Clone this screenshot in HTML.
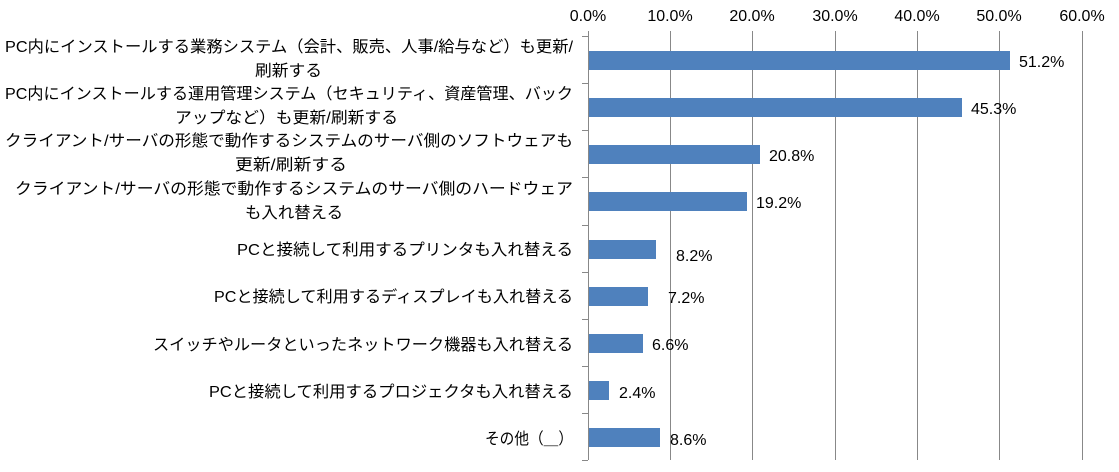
<!DOCTYPE html>
<html><head><meta charset="utf-8"><style>
body{margin:0;background:#fff;width:1119px;height:467px;overflow:hidden;font-family:"Liberation Sans","Noto Sans CJK JP",sans-serif;}
</style></head><body>
<svg width="1119" height="467" xmlns="http://www.w3.org/2000/svg" font-family="'Liberation Sans','Noto Sans CJK JP',sans-serif" font-size="16" fill="#000">
<g stroke="#888" stroke-width="1">
<line x1="670.5" y1="31" x2="670.5" y2="460"/><line x1="752.5" y1="31" x2="752.5" y2="460"/>
<line x1="835.5" y1="31" x2="835.5" y2="460"/><line x1="917.5" y1="31" x2="917.5" y2="460"/>
<line x1="999.5" y1="31" x2="999.5" y2="460"/><line x1="1082.5" y1="31" x2="1082.5" y2="460"/>
<line x1="588.5" y1="31" x2="588.5" y2="460"/>
<line x1="582" y1="36.5" x2="588" y2="36.5"/><line x1="582" y1="83.5" x2="588" y2="83.5"/>
<line x1="582" y1="130.5" x2="588" y2="130.5"/><line x1="582" y1="177.5" x2="588" y2="177.5"/>
<line x1="582" y1="225.5" x2="588" y2="225.5"/><line x1="582" y1="272.5" x2="588" y2="272.5"/>
<line x1="582" y1="319.5" x2="588" y2="319.5"/><line x1="582" y1="366.5" x2="588" y2="366.5"/>
<line x1="582" y1="413.5" x2="588" y2="413.5"/><line x1="582" y1="460.5" x2="588" y2="460.5"/>
</g>
<g text-anchor="middle" font-size="16">
<text x="588" y="21">0.0%</text><text x="670" y="21">10.0%</text><text x="752" y="21">20.0%</text>
<text x="835" y="21">30.0%</text><text x="917" y="21">40.0%</text><text x="999" y="21">50.0%</text><text x="1082" y="21">60.0%</text>
</g>
<g fill="#4f81bd">
<rect x="589" y="51" width="421" height="19"/>
<rect x="589" y="98" width="373" height="19"/>
<rect x="589" y="145" width="171" height="19"/>
<rect x="589" y="192" width="158" height="19"/>
<rect x="589" y="240" width="67" height="19"/>
<rect x="589" y="287" width="59" height="19"/>
<rect x="589" y="334" width="54" height="19"/>
<rect x="589" y="381" width="20" height="19"/>
<rect x="589" y="428" width="71" height="19"/>
</g>
<g font-size="16">
<text x="1019" y="67">51.2%</text><text x="971" y="114">45.3%</text><text x="769" y="161">20.8%</text>
<text x="756" y="208">19.2%</text><text x="676" y="261">8.2%</text><text x="668" y="303">7.2%</text>
<text x="652" y="350">6.6%</text><text x="619" y="398">2.4%</text><text x="670" y="445">8.6%</text>
</g>
<g font-size="16">
<text x="5" y="52" textLength="568" lengthAdjust="spacingAndGlyphs">PC内にインストールする業務システム（会計、販売、人事/給与など）も更新/</text>
<text x="255" y="76" textLength="67" lengthAdjust="spacingAndGlyphs">刷新する</text>
<text x="5" y="99" textLength="568" lengthAdjust="spacingAndGlyphs">PC内にインストールする運用管理システム（セキュリティ、資産管理、バック</text>
<text x="175" y="123" textLength="223" lengthAdjust="spacingAndGlyphs">アップなど）も更新/刷新する</text>
<text x="5" y="146" textLength="568" lengthAdjust="spacingAndGlyphs">クライアント/サーバの形態で動作するシステムのサーバ側のソフトウェアも</text>
<text x="235" y="170" textLength="112" lengthAdjust="spacingAndGlyphs">更新/刷新する</text>
<text x="15" y="194" textLength="558" lengthAdjust="spacingAndGlyphs">クライアント/サーバの形態で動作するシステムのサーバ側のハードウェア</text>
<text x="245" y="218" textLength="98" lengthAdjust="spacingAndGlyphs">も入れ替える</text>
<text x="237" y="255" textLength="336" lengthAdjust="spacingAndGlyphs">PCと接続して利用するプリンタも入れ替える</text>
<text x="214" y="302" textLength="359" lengthAdjust="spacingAndGlyphs">PCと接続して利用するディスプレイも入れ替える</text>
<text x="153" y="350" textLength="420" lengthAdjust="spacingAndGlyphs">スイッチやルータといったネットワーク機器も入れ替える</text>
<text x="209" y="397" textLength="364" lengthAdjust="spacingAndGlyphs">PCと接続して利用するプロジェクタも入れ替える</text>
<text x="485" y="444" textLength="88" lengthAdjust="spacingAndGlyphs">その他（＿）</text>
</g>
</svg>
</body></html>
